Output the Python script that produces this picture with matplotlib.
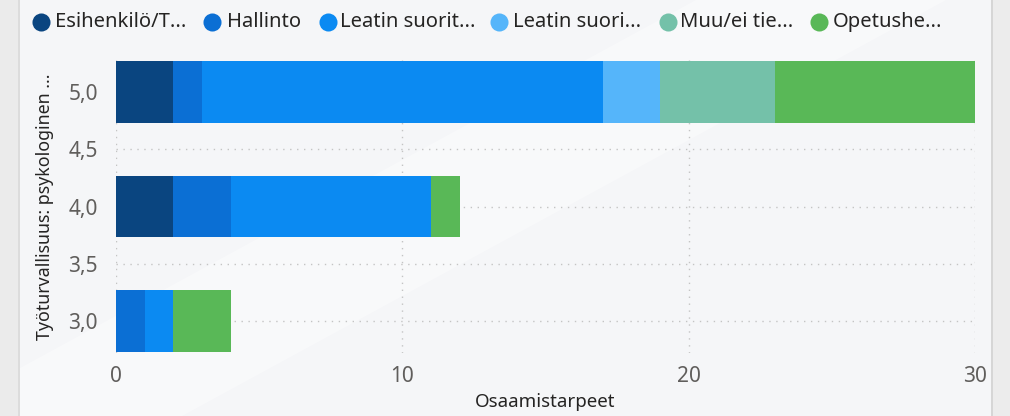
import numpy as np
import matplotlib
matplotlib.use("Agg")
import matplotlib.pyplot as plt
from matplotlib.patches import Rectangle, Polygon

plt.rcParams['font.family'] = ['Noto Sans', 'DejaVu Sans']

# data
levels = [5.0, 4.0, 3.0]
series = ["Esihenkilö/T...", "Hallinto", "Leatin suorit...", "Leatin suori...",
          "Muu/ei tie...", "Opetushe..."]
esihenkilo = [2, 2, 0]
hallinto = [1, 2, 1]
leatin_suorit = [14, 7, 1]
leatin_suori = [2, 0, 0]
muu = [4, 0, 0]
opetus = [7, 1, 2]
colors = ["#0a4580", "#0b6fd4", "#0b8af2", "#55b5fa", "#74c1a9", "#59b857"]

y_ticks = [3.0, 3.5, 4.0, 4.5, 5.0]
y_ticklabels = ["3,0", "3,5", "4,0", "4,5", "5,0"]
x_ticks = [0, 10, 20, 30]

values = [esihenkilo, hallinto, leatin_suorit, leatin_suori, muu, opetus]

W, H = 1010, 416
fig = plt.figure(figsize=(W / 100, H / 100), dpi=100)
fig.patch.set_facecolor("#f5f6f8")

# background: faint diagonal glare + panel frame
bg = fig.add_axes([0, 0, 1, 1], zorder=-1)
bg.set_xlim(0, W)
bg.set_ylim(H, 0)
bg.axis("off")
bg.add_patch(Polygon([(-68, H), (182, H), (946, 0), (696, 0)], closed=True,
                     facecolor="white", alpha=0.35, edgecolor="none"))
frame = [((0, 18), "#ebebeb"), ((18, 2), "#dcdcdc"),
         ((991, 19), "#ececec"), ((991, 2), "#d6d6d6")]
for (x0, w), c in frame:
    bg.add_patch(Rectangle((x0, 0), w, H, facecolor=c, edgecolor="none"))

ax = fig.add_axes([116 / W, 1 - 353 / H, 859 / W, 293 / H])
ax.set_facecolor("none")

left = np.zeros(len(levels))
for name, vals, c in zip(series, values, colors):
    vals = np.array(vals, dtype=float)
    ax.barh(levels, vals, left=left, height=0.54, color=c, edgecolor="none",
            zorder=3, label=name)
    left += vals

ax.set_xlim(0, 30)
ax.set_ylim(2.72, 5.28)
ax.set_yticks(y_ticks)
ax.set_yticklabels(y_ticklabels)
ax.set_xticks(x_ticks)
ax.grid(True, color="#c4c4c4", linestyle=(0, (1, 4)), linewidth=1, zorder=0)
for s in ax.spines.values():
    s.set_visible(False)
ax.tick_params(length=0, labelsize=15, colors="#605e5c", pad=13)
ax.tick_params(axis="x", pad=9)
ax.set_xlabel("Osaamistarpeet", fontsize=13.5, color="#252423", labelpad=5)
ax.set_ylabel("Työturvallisuus: psykologinen ...", fontsize=12.8, color="#252423",
              labelpad=10)

# legend row at the top (manual layout, like the Power BI legend)
leg = fig.add_axes([0, 0, 1, 1])
leg.set_xlim(0, W)
leg.set_ylim(H, 0)
leg.axis("off")
dot_x = [41, 212, 328, 499, 668, 819]
text_x = [55, 227, 340, 513, 680, 833]
for name, c, dx, tx in zip(series, colors, dot_x, text_x):
    leg.plot(dx, 22, marker="o", markersize=13, color=c, markeredgecolor="none")
    leg.text(tx, 22, name, fontsize=14.5, color="#252423", va="center", ha="left")

fig.savefig("out.png", dpi=100, facecolor=fig.get_facecolor())
